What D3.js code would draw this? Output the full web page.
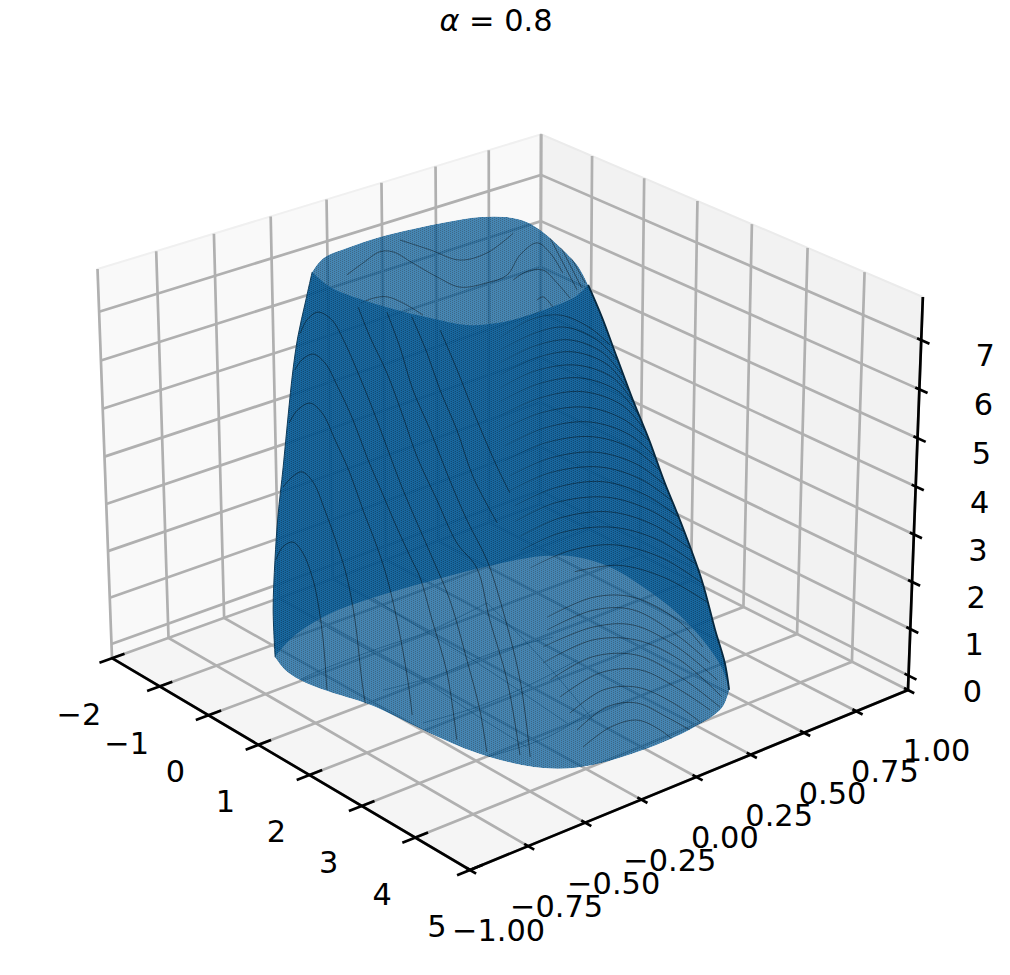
<!DOCTYPE html>
<html><head><meta charset="utf-8"><style>
html,body{margin:0;padding:0;background:#fff}
svg{display:block}
text{font-family:"DejaVu Sans";font-size:30.4px;fill:#000}
</style></head><body>
<script src="https://cdn.jsdelivr.net/npm/d3@7"></script>
<script>
// ---- axis content ----
const xTicks=[-2,-1,0,1,2,3,4,5];
const yTicks=[-1,-.75,-.5,-.25,0,.25,.5,.75,1];
const zTicks=[0,1,2,3,4,5,6,7];
const xLabels=["−2","−1","0","1","2","3","4","5"];
const yLabels=["−1.00","−0.75","−0.50","−0.25","0.00","0.25","0.50","0.75","1.00"];
const zLabels=["0","1","2","3","4","5","6","7"];
const xLim=[-2,5],yLim=[-1,1],zLim=[-.31,7.87];
const rimZBottom=0,rimZTop=7.5,wallY=-.4;

// ---- open ends of the tube, as [x,y] ----
const bottomFront=[[-0.41,-0.617],[-0.05,-0.651],[0.28,-0.658],[0.73,-0.637],[1.35,-0.588],[2.34,-0.563],[3.14,-0.529],[3.78,-0.459],[4.08,-0.387],[4.26,-0.283],[4.36,-0.082],[4.32,0.157],[4.16,0.333],[3.87,0.443]];
const bottomBack=[[-0.41,-0.617],[-0.70,-0.472],[-0.91,-0.270],[-0.92,-0.057],[-0.83,0.176],[-0.67,0.451],[-0.46,0.641],[-0.16,0.731],[0.34,0.769],[1.05,0.752],[1.88,0.706],[2.65,0.633],[3.37,0.538],[3.87,0.443]];
const topFront=[[-0.72,-0.352],[-0.21,-0.387],[0.36,-0.372],[0.86,-0.338],[1.30,-0.295],[1.74,-0.238],[1.93,-0.149],[1.99,-0.019],[1.97,0.108],[1.92,0.201],[1.74,0.305]];
const topBack=[[-0.72,-0.352],[-0.98,-0.245],[-1.05,-0.124],[-1.07,0.029],[-1.01,0.165],[-0.92,0.299],[-0.78,0.419],[-0.56,0.492],[-0.28,0.516],[0.10,0.499],[0.70,0.445],[1.21,0.389],[1.74,0.305]];

// ---- outline of the tube and the mesh bands, as [x,z] ----
const leftEdge=[[-1.41,-1.00],[-1.43,0.03],[-1.37,1.15],[-1.29,2.13],[-1.16,3.27],[-1.04,4.40],[-0.92,5.45],[-0.81,6.19],[-0.65,6.97],[-0.50,7.68]];
const rightEdge=[[4.58,9.96],[4.82,9.47],[5.08,8.84],[5.36,8.17],[5.64,7.56],[5.91,6.89],[6.19,6.28],[6.56,5.36],[6.80,4.52],[6.97,3.98],[7.05,3.50]];
const leftBands=[
[[-0.76,6.29],[-0.62,6.64],[-0.40,6.91],[-0.13,6.89],[0.12,6.55],[0.37,6.06],[0.63,5.50],[0.91,4.83],[1.19,4.16],[1.48,3.57],[1.78,2.98],[2.09,2.33],[2.41,1.26],[2.65,0.36],[2.78,-0.45]],
[[-0.88,5.47],[-0.74,5.75],[-0.51,5.99],[-0.28,5.93],[-0.03,5.56],[0.26,5.03],[0.52,4.41],[0.81,3.82],[1.05,3.33],[1.37,2.74],[1.52,2.48],[1.75,1.71],[2.03,0.76],[2.21,-0.55]],
[[-1.02,4.28],[-0.85,4.64],[-0.59,4.93],[-0.35,4.85],[-0.10,4.42],[0.18,3.89],[0.43,3.25],[0.70,2.62],[0.88,2.10],[1.07,1.30],[1.27,0.14],[1.35,-0.56]],
[[-1.17,2.84],[-0.98,3.16],[-0.78,3.38],[-0.56,3.29],[-0.33,2.82],[-0.08,2.18],[0.09,1.64],[0.24,0.80],[0.36,-0.42],[0.44,-1.02]],
[[-1.35,1.17],[-1.20,1.54],[-0.99,1.76],[-0.79,1.64],[-0.61,1.23],[-0.52,0.85],[-0.41,-0.02],[-0.35,-1.07]],
[[0.39,7.41],[0.61,6.92],[0.93,6.35],[1.23,5.62],[1.49,4.94],[1.86,4.26],[2.23,3.59],[2.60,3.29],[2.84,2.36],[3.16,1.30],[3.40,-0.12]],
[[0.94,7.59],[1.18,7.01],[1.42,6.27],[1.74,5.63],[2.05,4.92],[2.42,4.17],[2.79,3.56],[3.03,2.88],[3.40,1.45],[3.59,-0.04]],
[[1.41,7.74],[1.69,7.16],[1.93,6.54],[2.24,5.90],[2.54,5.11],[2.98,4.43]],
[[1.94,7.74],[2.25,7.11],[2.61,6.30],[2.98,5.56],[3.21,5.17]]
];
const rightBands=[
[[3.89,3.04],[4.71,3.93],[5.40,4.34],[6.16,4.34],[6.60,4.07]],
[[3.89,2.78],[4.71,3.67],[5.40,4.09],[6.16,4.04],[6.72,3.83]],
[[3.82,2.39],[4.71,3.33],[5.41,3.79],[6.16,3.81],[6.85,3.57]],
[[3.82,2.06],[4.71,3.07],[5.48,3.53],[6.22,3.58],[6.93,3.29]],
[[3.95,1.79],[4.71,2.73],[5.48,3.23],[6.22,3.25],[6.90,3.07]],
[[4.13,1.55],[4.84,2.48],[5.54,2.97],[6.23,2.99],[6.74,2.91]],
[[4.31,1.33],[4.90,2.17],[5.49,2.59],[6.11,2.66],[6.57,2.57]],
[[4.44,1.06],[4.97,1.87],[5.49,2.27],[6.01,2.31],[6.41,2.30]],
[[4.55,0.78],[5.03,1.49],[5.50,1.93],[5.90,1.98],[6.12,1.92]],
[[3.03,8.15],[3.57,8.78],[4.10,9.14],[4.62,9.16],[4.96,9.01]],
[[3.03,7.91],[3.66,8.57],[4.18,8.95],[4.74,8.99],[5.08,8.79]],
[[3.03,7.66],[3.66,8.32],[4.27,8.75],[4.84,8.80],[5.17,8.55]],
[[3.03,7.42],[3.66,8.08],[4.33,8.55],[4.93,8.61],[5.28,8.31]],
[[3.03,7.16],[3.66,7.83],[4.40,8.33],[5.02,8.41],[5.38,8.12]],
[[3.03,6.89],[3.71,7.60],[4.45,8.11],[5.11,8.20],[5.48,7.91]],
[[3.03,6.61],[3.75,7.35],[4.50,7.87],[5.18,7.97],[5.57,7.70]],
[[3.03,6.31],[3.75,7.05],[4.56,7.60],[5.23,7.71],[5.68,7.51]],
[[3.12,6.06],[3.84,6.81],[4.63,7.35],[5.32,7.47],[5.76,7.27]],
[[3.12,5.76],[3.84,6.51],[4.68,7.09],[5.41,7.23],[5.87,7.04]],
[[3.21,5.51],[3.93,6.26],[4.74,6.82],[5.46,6.97],[5.97,6.81]],
[[3.21,5.21],[3.93,5.97],[4.81,6.57],[5.53,6.72],[6.08,6.58]],
[[3.30,4.96],[4.02,5.72],[4.86,6.31],[5.60,6.46],[6.18,6.34]],
[[3.31,4.65],[4.02,5.42],[4.92,6.04],[5.67,6.21],[6.28,6.11]],
[[3.40,4.40],[4.11,5.17],[4.97,5.78],[5.74,5.96],[6.39,5.84]],
[[3.40,4.10],[4.11,4.87],[5.03,5.51],[5.82,5.71],[6.48,5.60]],
[[3.58,3.86],[4.29,4.62],[5.08,5.19],[5.89,5.40],[6.57,5.30]],
[[4.38,4.25],[5.14,4.82],[5.94,5.04],[6.67,4.98]]
];
const backBands=[
[[-0.90,-1.19],[-0.55,-0.80],[0.73,0.50],[1.65,1.39],[2.79,2.68]],
[[0.78,-0.38],[1.76,0.51],[2.90,1.71],[4.00,2.70]],
[[1.56,-0.60],[2.60,0.39],[3.64,1.53],[4.43,2.49]],
[[2.78,-0.56],[3.90,0.57],[4.72,1.65]],
[[-0.33,0.31],[0.67,0.31],[1.64,0.31],[2.52,0.21],[3.53,0.13]],
[[0.60,1.49],[1.57,1.39],[2.52,1.33],[3.45,1.21],[4.26,1.09]],
[[2.79,2.68],[3.53,2.29],[4.13,1.90],[4.72,1.45]],
[[0.18,7.96],[0.49,8.35],[0.82,8.74],[1.07,8.86],[1.44,8.82],[1.89,8.77],[2.31,8.78],[2.80,9.11],[3.16,9.44],[3.39,9.94],[3.69,10.32],[3.92,10.24],[4.14,9.97]],
[[0.43,7.51],[0.68,7.74],[0.94,7.90],[1.25,7.93],[1.62,7.88]],
[[3.27,9.40],[3.51,9.68],[3.80,9.85],[4.04,9.73],[4.27,9.55]],
[[3.69,9.22],[3.80,9.34],[3.97,9.23]],
[[3.92,10.52],[4.39,9.77]],
[[4.06,10.52],[4.47,9.85]],
[[4.21,10.44],[4.53,9.97]],
[[1.20,9.16],[1.76,9.24],[2.31,9.31],[2.80,9.69],[3.27,10.30]]
];

// ---- matplotlib-style camera: elev 25, azim -40, distance 10 ----
const el=25*Math.PI/180,az=-40*Math.PI/180,dist=10;
const n=[Math.cos(el)*Math.cos(az),Math.cos(el)*Math.sin(az),Math.sin(el)];
const u=[-Math.sin(az),Math.cos(az),0];
const v=[-Math.sin(el)*Math.cos(az),-Math.sin(el)*Math.sin(az),Math.cos(el)];
const boxX=d3.scaleLinear().domain(xLim).range([-.57143,.57143]);
const boxY=d3.scaleLinear().domain(yLim).range([-.57143,.57143]);
const boxZ=d3.scaleLinear().domain(zLim).range([-.42857,.42857]);
const screenX=d3.scaleLinear().domain([0,1]).range([507.5,507.5+5033]);
const screenY=d3.scaleLinear().domain([0,1]).range([482,482-5033]);
function project(x,y,z){
  const d=[boxX(x),boxY(y),boxZ(z)];
  const dot=a=>a[0]*d[0]+a[1]*d[1]+a[2]*d[2];
  const w=dist-dot(n);
  return [screenX(dot(u)/w),screenY(dot(v)/w)];
}
const onBottom=p=>project(p[0],p[1],rimZBottom);
const onTop=p=>project(p[0],p[1],rimZTop);
const onWall=p=>project(p[0],wallY,p[1]);
const smooth=d3.line().curve(d3.curveCatmullRom.alpha(.5));
const straight=d3.line();

const svg=d3.select("body").append("svg").attr("width",1010).attr("height",975);
const defs=svg.append("defs");
function tile(id,dx,dy){
  const p=defs.append("pattern").attr("id",id).attr("width",4).attr("height",4)
    .attr("patternUnits","userSpaceOnUse").attr("patternTransform",`translate(${dx},${dy})`);
  p.append("rect").attr("width",4).attr("height",4).attr("fill","#0a5f9b");
  [[0,0],[2,1],[0,2],[2,3]].forEach(c=>p.append("rect").attr("x",c[0]).attr("y",c[1]).attr("width",1).attr("height",1).attr("fill","#00375f"));
}
tile("meshBack",0,0);tile("meshFront",1,0);
const fade=(id,a,b)=>{
  const g=defs.append("linearGradient").attr("id",id).attr("gradientUnits","userSpaceOnUse").attr("x1",a).attr("x2",b).attr("y1",0).attr("y2",0);
  g.append("stop").attr("offset",0).attr("stop-color","#fff").attr("stop-opacity",0);
  g.append("stop").attr("offset",1).attr("stop-color","#fff").attr("stop-opacity",1);
  defs.append("mask").attr("id",id+"M").attr("maskUnits","userSpaceOnUse").attr("x",0).attr("y",0).attr("width",1010).attr("height",975)
    .append("rect").attr("width",1010).attr("height",975).attr("fill",`url(#${id})`);
};
fade("rightFade",490,570);

// ---- panes ----
const [x0,x1]=xLim,[y0,y1]=yLim,[z0,z1]=zLim;
const pane=(pts,fill)=>svg.append("path").attr("d",straight(pts)+"Z").attr("fill",fill).attr("stroke",fill==="#f9f9f9"?"#f0f0f0":"#ebebeb").attr("stroke-width",2);
pane([project(x0,y0,z0),project(x0,y1,z0),project(x0,y1,z1),project(x0,y0,z1)],"#f9f9f9");
pane([project(x0,y1,z0),project(x1,y1,z0),project(x1,y1,z1),project(x0,y1,z1)],"#f2f2f2");
pane([project(x0,y0,z0),project(x1,y0,z0),project(x1,y1,z0),project(x0,y1,z0)],"#f5f5f5").attr("stroke","none");

// ---- grid ----
const grid=svg.append("g").attr("fill","none").attr("stroke","#b0b0b0").attr("stroke-width",2.7);
const gridLine=pts=>grid.append("path").attr("d",straight(pts));
xTicks.forEach(x=>gridLine([project(x,y0,z0),project(x,y1,z0),project(x,y1,z1)]));
yTicks.forEach(y=>gridLine([project(x1,y,z0),project(x0,y,z0),project(x0,y,z1)]));
zTicks.forEach(z=>gridLine([project(x0,y0,z),project(x0,y1,z),project(x1,y1,z)]));

// ---- axes ----
const axes=svg.append("g").attr("fill","none").attr("stroke","#000").attr("stroke-width",2.7);
const axisLine=pts=>axes.append("path").attr("d",straight(pts));
axisLine([project(x0,y0,z0),project(x1,y0,z0),project(x1,y1,z0),project(x1,y1,z1)]);
xTicks.forEach(x=>axisLine([project(x,y0+.055,z0),project(x,y0-.055,z0)]));
yTicks.forEach(y=>axisLine([project(x1-.07,y,z0),project(x1+.11,y,z0)]));
zTicks.forEach(z=>axisLine([project(x1-.07,y1,z),project(x1+.14,y1,z)]));

const labelLayer=svg.append("g").attr("text-anchor","middle");
const tickText=(p,s,ox,oy)=>labelLayer.append("text").attr("x",p[0]+ox).attr("y",p[1]+oy).attr("dy",".365em").text(s);
xTicks.forEach((x,i)=>tickText(project(x,y0,z0),xLabels[i],-33,56));
yTicks.forEach((y,i)=>tickText(project(x1,y,z0),yLabels[i],28.5,60));
zTicks.forEach((z,i)=>tickText(project(x1,y1,z),zLabels[i],64,15));

const title=svg.append("text").attr("x",496).attr("y",20).attr("dy",".365em").attr("text-anchor","middle");
title.append("tspan").attr("font-style","italic").text("α");
title.append("tspan").text(" = 0.8");

// ---- tube ----
function closed(a,b){
  const seg=[smooth(leftEdge.map(onWall)),smooth(a.map(onTop)),smooth(rightEdge.map(onWall)),smooth(b.slice().reverse().map(onBottom))];
  return seg.map((s,i)=>i?"L"+s.slice(1):s).join("")+"Z";
}
const frontPath=closed(topFront,bottomFront),backPath=closed(topBack,bottomBack);
const clip=defs.append("clipPath").attr("id","tube");
clip.append("path").attr("d",frontPath);clip.append("path").attr("d",backPath);
const tube=svg.append("g").attr("clip-path","url(#tube)");
const band=(g,c,op,w)=>g.append("path").attr("d",smooth(c.map(onWall))).attr("fill","none").attr("stroke","#000").attr("stroke-width",w).attr("stroke-opacity",op);
tube.append("path").attr("d",backPath).attr("fill","url(#meshBack)").attr("fill-opacity",.75);
backBands.forEach(c=>band(tube,c,.45,.9));
tube.append("path").attr("d",frontPath).attr("fill","url(#meshFront)").attr("fill-opacity",.75);
leftBands.forEach(c=>band(tube,c,.5,.9));
const rightGroup=tube.append("g").attr("mask","url(#rightFadeM)");
rightBands.forEach(c=>band(rightGroup,c,.42,1));
svg.append("path").attr("d",smooth(rightEdge.map(onWall))).attr("fill","none").attr("stroke","#06283f").attr("stroke-width",1.8);
svg.append("path").attr("d",smooth(leftEdge.map(onWall))).attr("fill","none").attr("stroke","#0c3a5a").attr("stroke-width",1);
</script></body></html>
